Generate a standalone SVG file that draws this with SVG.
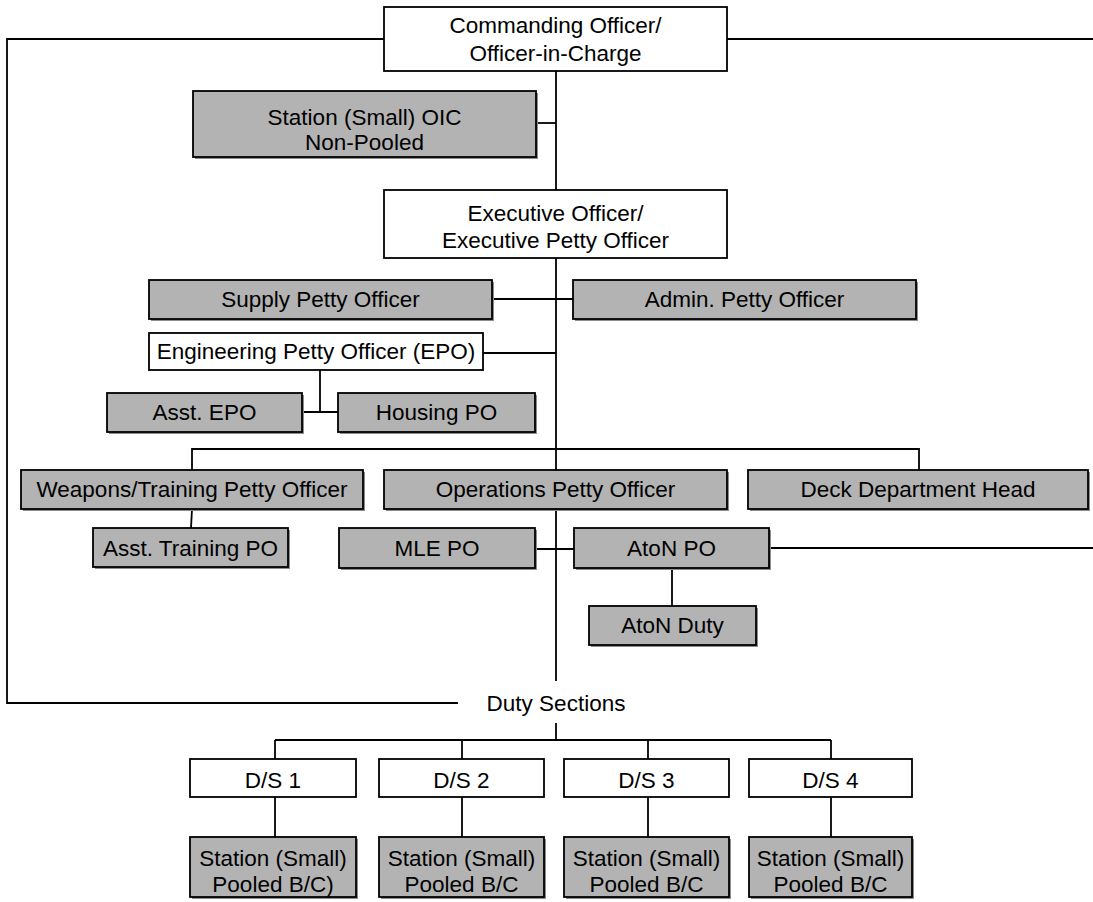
<svg xmlns="http://www.w3.org/2000/svg" width="1093" height="902" viewBox="0 0 1093 902">
<style>
.bw{fill:#ffffff;stroke:#000;stroke-width:1.8}
.bg{fill:#b3b3b3;stroke:#000;stroke-width:1.8}
.sh{fill:#8c8c8c;stroke:none}
.ln{fill:none;stroke:#000;stroke-width:1.8}
text{font-family:"Liberation Sans",Arial,sans-serif;font-size:22.5px;fill:#000;text-anchor:middle}
</style>
<rect width="1093" height="902" fill="#fff"/>
<g id="connectors">
<polyline class="ln" points="384,39 7,39 7,703 458,703"/>
<line class="ln" x1="727" y1="39" x2="1093" y2="39"/>
<line class="ln" x1="556" y1="71" x2="556" y2="190"/>
<line class="ln" x1="556" y1="258" x2="556" y2="681"/>
<line class="ln" x1="536" y1="123" x2="556" y2="123"/>
<line class="ln" x1="492" y1="299" x2="573" y2="299"/>
<line class="ln" x1="483" y1="353" x2="556" y2="353"/>
<polyline class="ln" points="320,370 320,412"/>
<line class="ln" x1="302" y1="412" x2="338" y2="412"/>
<polyline class="ln" points="192,470 192,449 919,449 919,470"/>
<line class="ln" x1="192" y1="509" x2="191" y2="528"/>
<line class="ln" x1="535" y1="549" x2="574" y2="549"/>
<line class="ln" x1="769" y1="548" x2="1093" y2="548"/>
<line class="ln" x1="672" y1="568" x2="672" y2="606"/>
<line class="ln" x1="556" y1="723" x2="556" y2="740"/>
<line class="ln" x1="275" y1="740" x2="831" y2="740"/>
<line class="ln" x1="275" y1="740" x2="275" y2="759"/>
<line class="ln" x1="462" y1="740" x2="462" y2="759"/>
<line class="ln" x1="648" y1="740" x2="648" y2="759"/>
<line class="ln" x1="831" y1="740" x2="831" y2="759"/>
<line class="ln" x1="275" y1="797" x2="275" y2="837"/>
<line class="ln" x1="462" y1="797" x2="462" y2="837"/>
<line class="ln" x1="648" y1="797" x2="648" y2="837"/>
<line class="ln" x1="831" y1="797" x2="831" y2="837"/>
</g>
<g id="co"><rect class="bw" x="384" y="7" width="343" height="64"/><text x="555.5" y="33">Commanding Officer/</text><text x="555.5" y="61">Officer-in-Charge</text></g>
<g id="station-oic"><rect class="sh" x="195" y="93" width="343" height="66"/><rect class="bg" x="193" y="91" width="343" height="66"/><text x="364.5" y="125">Station (Small) OIC</text><text x="364.5" y="150">Non-Pooled</text></g>
<g id="xo"><rect class="bw" x="384" y="190" width="343" height="68"/><text x="555.5" y="221">Executive Officer/</text><text x="555.5" y="248">Executive Petty Officer</text></g>
<g id="supply"><rect class="sh" x="151" y="282" width="343" height="39"/><rect class="bg" x="149" y="280" width="343" height="39"/><text x="320.5" y="307">Supply Petty Officer</text></g>
<g id="admin"><rect class="sh" x="575" y="282" width="343" height="39"/><rect class="bg" x="573" y="280" width="343" height="39"/><text x="744.5" y="307">Admin. Petty Officer</text></g>
<g id="epo"><rect class="bw" x="149" y="333" width="334" height="37"/><text x="316" y="359">Engineering Petty Officer (EPO)</text></g>
<g id="asst-epo"><rect class="sh" x="109" y="395" width="195" height="39"/><rect class="bg" x="107" y="393" width="195" height="39"/><text x="204.5" y="420">Asst. EPO</text></g>
<g id="housing"><rect class="sh" x="340" y="395" width="197" height="39"/><rect class="bg" x="338" y="393" width="197" height="39"/><text x="436.5" y="420">Housing PO</text></g>
<g id="weapons"><rect class="sh" x="23" y="472" width="342" height="39"/><rect class="bg" x="21" y="470" width="342" height="39"/><text x="192" y="497">Weapons/Training Petty Officer</text></g>
<g id="ops"><rect class="sh" x="386" y="472" width="343" height="39"/><rect class="bg" x="384" y="470" width="343" height="39"/><text x="555.5" y="497">Operations Petty Officer</text></g>
<g id="deck"><rect class="sh" x="750" y="472" width="340" height="39"/><rect class="bg" x="748" y="470" width="340" height="39"/><text x="918" y="497">Deck Department Head</text></g>
<g id="asst-training"><rect class="sh" x="95" y="530" width="195" height="39"/><rect class="bg" x="93" y="528" width="195" height="39"/><text x="190.5" y="556">Asst. Training PO</text></g>
<g id="mle"><rect class="sh" x="341" y="530" width="196" height="40"/><rect class="bg" x="339" y="528" width="196" height="40"/><text x="437" y="556">MLE PO</text></g>
<g id="aton-po"><rect class="sh" x="576" y="530" width="195" height="40"/><rect class="bg" x="574" y="528" width="195" height="40"/><text x="671.5" y="556">AtoN PO</text></g>
<g id="aton-duty"><rect class="sh" x="591" y="608" width="167" height="39"/><rect class="bg" x="589" y="606" width="167" height="39"/><text x="672.5" y="633">AtoN Duty</text></g>
<g id="duty-sections"><text x="556" y="711">Duty Sections</text></g>
<g id="ds1"><rect class="bw" x="190" y="759" width="166" height="38"/><text x="273" y="788">D/S 1</text></g>
<g id="ds2"><rect class="bw" x="379" y="759" width="165" height="38"/><text x="461.5" y="788">D/S 2</text></g>
<g id="ds3"><rect class="bw" x="564" y="759" width="165" height="38"/><text x="646.5" y="788">D/S 3</text></g>
<g id="ds4"><rect class="bw" x="749" y="759" width="163" height="38"/><text x="830.5" y="788">D/S 4</text></g>
<g id="st1"><rect class="sh" x="192" y="839" width="166" height="60"/><rect class="bg" x="190" y="837" width="166" height="60"/><text x="273" y="866">Station (Small)</text><text x="273" y="892">Pooled B/C)</text></g>
<g id="st2"><rect class="sh" x="381" y="839" width="165" height="60"/><rect class="bg" x="379" y="837" width="165" height="60"/><text x="461.5" y="866">Station (Small)</text><text x="461.5" y="892">Pooled B/C</text></g>
<g id="st3"><rect class="sh" x="566" y="839" width="165" height="60"/><rect class="bg" x="564" y="837" width="165" height="60"/><text x="646.5" y="866">Station (Small)</text><text x="646.5" y="892">Pooled B/C</text></g>
<g id="st4"><rect class="sh" x="751" y="839" width="163" height="60"/><rect class="bg" x="749" y="837" width="163" height="60"/><text x="830.5" y="866">Station (Small)</text><text x="830.5" y="892">Pooled B/C</text></g>
</svg>
